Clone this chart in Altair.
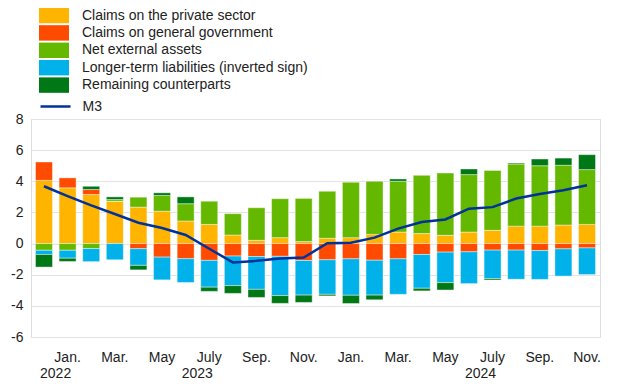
import altair as alt
import pandas as pd

periods = ["2022-12", "2023-01", "2023-02", "2023-03", "2023-04", "2023-05",
           "2023-06", "2023-07", "2023-08", "2023-09", "2023-10", "2023-11",
           "2023-12", "2024-01", "2024-02", "2024-03", "2024-04", "2024-05",
           "2024-06", "2024-07", "2024-08", "2024-09", "2024-10", "2024-11"]

series_names = ["Claims on the private sector",
                "Claims on general government",
                "Net external assets",
                "Longer-term liabilities (inverted sign)",
                "Remaining counterparts"]
series_colors = ["#FFB400", "#FF4B00", "#65B800", "#00B1EA", "#007816"]

private_sector = [4.06, 3.58, 3.15, 2.72, 2.34, 2.08, 1.45, 1.23, 0.55, 0.21, 0.38, 0.13,
                  0.34, 0.38, 0.59, 0.74, 0.64, 0.53, 0.74, 0.85, 1.12, 1.12, 1.19, 1.23]
general_government = [1.18, 0.64, 0.32, 0.0, -0.33, -0.87, -0.97, -1.08, -0.80, -0.83, -0.82, -1.09,
                      -1.04, -0.98, -1.07, -0.98, -0.70, -0.55, -0.53, -0.42, -0.42, -0.45, -0.34, -0.28]
net_external = [-0.43, -0.43, -0.32, 0.11, 0.64, 1.01, 1.11, 1.49, 1.37, 2.09, 2.50, 2.77,
                3.02, 3.56, 3.41, 3.26, 3.74, 4.00, 3.69, 3.85, 3.99, 3.88, 3.84, 3.52]
longer_term = [-0.27, -0.51, -0.84, -1.04, -1.07, -1.46, -1.53, -1.72, -1.90, -2.11, -2.52, -2.22,
               -2.22, -2.34, -2.24, -2.28, -2.17, -1.96, -2.04, -1.83, -1.87, -1.85, -1.75, -1.71]
remaining = [-0.81, -0.21, 0.21, 0.17, -0.29, 0.17, 0.44, -0.27, -0.50, -0.52, -0.50, -0.47,
             -0.10, -0.53, -0.30, 0.15, -0.17, -0.47, 0.36, -0.09, 0.06, 0.43, 0.46, 0.96]
m3 = [3.68, 3.05, 2.45, 1.9, 1.34, 1.0, 0.55, -0.33, -1.21, -1.11, -0.96, -0.90,
      0.02, 0.06, 0.38, 0.96, 1.38, 1.55, 2.24, 2.34, 2.89, 3.19, 3.42, 3.74]

month_ticks = ["2023-01", "2023-03", "2023-05", "2023-07", "2023-09", "2023-11",
               "2024-01", "2024-03", "2024-05", "2024-07", "2024-09", "2024-11"]
month_texts = ["Jan.", "Mar.", "May", "July", "Sep.", "Nov.",
               "Jan.", "Mar.", "May", "July", "Sep.", "Nov."]
year_ticks = ["2023-01", "2023-07", "2024-07"]
year_texts = ["2022", "2023", "2024"]
y_ticks = [-6, -4, -2, 0, 2, 4, 6, 8]

FONT = "Liberation Sans"
TEXT = "#222222"

series_values = [private_sector, general_government, net_external, longer_term, remaining]
rows = []
for i, p in enumerate(periods):
    for k, (name, vals) in enumerate(zip(series_names, series_values)):
        rows.append({"period": p, "series": name, "order": k, "value": vals[i]})
bars_df = pd.DataFrame(rows)
m3_df = pd.DataFrame({"period": periods, "value": m3, "name": ["M3"] * len(periods)})


def label_expr(keys, texts):
    expr = "''"
    for k, t in reversed(list(zip(keys, texts))):
        expr = f"datum.value === '{k}' ? '{t}' : ({expr})"
    return expr


x_scale = alt.Scale(domain=periods, paddingInner=0.28, paddingOuter=0.19)
y_scale = alt.Scale(domain=[-6, 8], nice=False, zero=False)


def y_axis():
    return alt.Axis(values=y_ticks, labelExpr="'' + datum.value",
                    ticks=False, domain=False, gridColor="#e3e3e3", gridWidth=1,
                    labelPadding=8, labelFontSize=14, labelFont=FONT, labelColor=TEXT,
                    labelOverlap=False, labelBound=False, labelFlush=False)


bars = alt.Chart(bars_df).mark_bar(stroke="white", strokeWidth=0.6, strokeOpacity=0.7).encode(
    x=alt.X("period:N", scale=x_scale, title=None,
            axis=alt.Axis(values=month_ticks, labelExpr=label_expr(month_ticks, month_texts),
                          labelAngle=0, ticks=False, domain=False, grid=False,
                          labelPadding=13, labelFontSize=14, labelFont=FONT,
                          labelColor=TEXT, orient="bottom", labelOverlap=False)),
    y=alt.Y("value:Q", scale=y_scale, stack="zero", title=None, axis=y_axis()),
    fill=alt.Fill("series:N", scale=alt.Scale(domain=series_names, range=series_colors),
                  legend=alt.Legend(orient="none", legendX=15.5, legendY=-111, title=None,
                                    symbolType="M-2,-1.03H2V1.03H-2Z", symbolSize=225,
                                    symbolStrokeWidth=0, labelOffset=20.5,
                                    labelFontSize=14, labelFont=FONT, labelColor=TEXT,
                                    rowPadding=0.4, padding=0, labelLimit=400)),
    order=alt.Order("order:Q", sort="ascending"),
)

line = alt.Chart(m3_df).mark_line(strokeWidth=2.5).encode(
    x=alt.X("period:N", scale=x_scale, title=None,
            axis=alt.Axis(values=year_ticks, labelExpr=label_expr(year_ticks, year_texts),
                          labelAngle=0, ticks=False, domain=False, grid=False,
                          labelPadding=29, labelOffset=-12, labelFontSize=14,
                          labelFont=FONT, labelColor=TEXT, orient="bottom",
                          labelOverlap=False)),
    y=alt.Y("value:Q", scale=y_scale, title=None, axis=y_axis()),
    stroke=alt.Stroke("name:N", scale=alt.Scale(domain=["M3"], range=["#003299"]),
                      legend=alt.Legend(orient="none", legendX=15.5, legendY=-21.5, title=None,
                                        symbolType="M-2,0H2", symbolSize=225,
                                        symbolStrokeWidth=2.5, labelOffset=18,
                                        labelFontSize=14, labelFont=FONT, labelColor=TEXT,
                                        padding=0)),
)

chart = alt.layer(bars, line).resolve_axis(x="independent").properties(
    width=569, height=218,
    autosize=alt.AutoSizeParams(type="none"),
    padding={"left": 23, "top": 111, "right": 12, "bottom": 42},
).configure_view(stroke="#e3e3e3", strokeWidth=1).configure(font=FONT)

chart.save("out.html", embed_options={"renderer": "svg", "actions": False})
